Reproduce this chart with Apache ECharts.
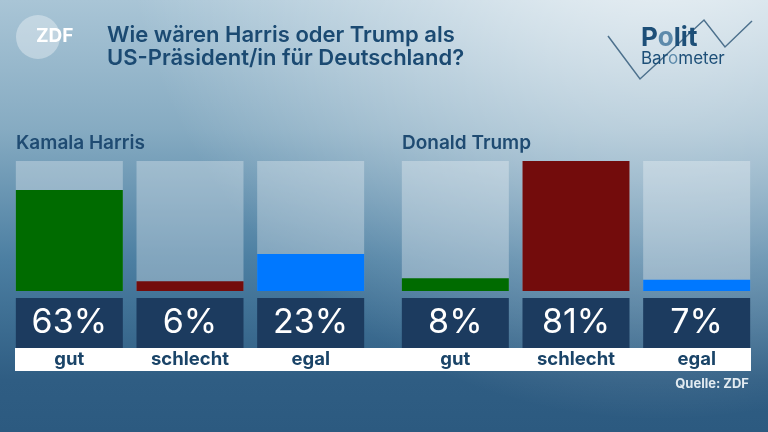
<!DOCTYPE html>
<html>
<head>
<meta charset="utf-8">
<script src="https://cdn.jsdelivr.net/npm/echarts@6/dist/echarts.min.js"></script>
<style>
  html, body { margin: 0; padding: 0; }
  #main { width: 768px; height: 432px; }
</style>
</head>
<body>
<div id="main"></div>
<script>
    var categories = ['gut', 'schlecht', 'egal'];
    var groupNames = ['Kamala Harris', 'Donald Trump'];
    var harris = [63, 6, 23];
    var trump = [8, 81, 7];
    var barColors = ['#006b00', '#730c0c', '#0078ff'];

    var FONT = 'Inter, "Noto Sans", sans-serif';
    var chart = echarts.init(document.getElementById('main'));
    var yMax = Math.max.apply(null, harris.concat(trump));

    function makeSeries(values, idx) {
        return {
            type: 'bar',
            xAxisIndex: idx,
            yAxisIndex: idx,
            barWidth: 107,
            showBackground: true,
            backgroundStyle: { color: 'rgba(255,255,255,0.3)' },
            data: values.map(function (v, i) {
                return { value: v, itemStyle: { color: barColors[i] } };
            }),
            label: {
                show: true,
                position: 'bottom',
                distance: 7,
                formatter: '{c}%',
                color: '#fff',
                fontFamily: FONT,
                fontSize: 34,
                width: 107,
                height: 50,
                lineHeight: 50,
                align: 'center',
                verticalAlign: 'top',
                backgroundColor: '#1c3b5f'
            },
            animation: false
        };
    }

    function xAx(idx) {
        return {
            type: 'category',
            gridIndex: idx,
            data: categories,
            axisLine: { show: false },
            axisTick: { show: false },
            axisLabel: {
                margin: 58,
                color: '#1a4468',
                fontFamily: FONT,
                fontWeight: 'bold',
                fontSize: 18.5,
                lineHeight: 21
            }
        };
    }

    function yAx(idx) {
        return {
            type: 'value',
            gridIndex: idx,
            min: 0,
            max: yMax,
            show: false
        };
    }

    var option = {
        backgroundColor: {
            type: 'linear', x: 0, y: 0, x2: 0, y2: 1,
            colorStops: [
                { offset: 0, color: '#a9c5d6' },
                { offset: 0.3, color: '#86abc2' },
                { offset: 0.6, color: '#4c7fa2' },
                { offset: 0.88, color: '#2f5d83' },
                { offset: 1, color: '#2c5a80' }
            ]
        },
        title: [
            {
                text: 'Wie wären Harris oder Trump als\nUS-Präsident/in für Deutschland?',
                left: 107, top: 24, padding: 0,
                textStyle: { color: '#1b4a72', fontFamily: FONT, fontWeight: 600, fontSize: 22, lineHeight: 23 }
            },
            {
                text: groupNames[0], left: 16, top: 134, padding: 0,
                textStyle: { color: '#1f4b72', fontFamily: FONT, fontWeight: 600, fontSize: 19 }
            },
            {
                text: groupNames[1], left: 402, top: 134, padding: 0,
                textStyle: { color: '#1f4b72', fontFamily: FONT, fontWeight: 600, fontSize: 19 }
            }
        ],
        grid: [
            { left: 9, top: 161, width: 362, height: 130 },
            { left: 395, top: 161, width: 362, height: 130 }
        ],
        xAxis: [xAx(0), xAx(1)],
        yAxis: [yAx(0), yAx(1)],
        graphic: [
            {
                type: 'circle', z: -5, silent: true,
                shape: { cx: 660, cy: -120, r: 540 },
                style: {
                    fill: {
                        type: 'radial', x: 0.5, y: 0.5, r: 0.5,
                        colorStops: [
                            { offset: 0, color: 'rgba(255,255,255,0.85)' },
                            { offset: 0.5, color: 'rgba(255,255,255,0.4)' },
                            { offset: 1, color: 'rgba(255,255,255,0)' }
                        ]
                    }
                }
            },
            {
                type: 'rect', silent: true, z: 0,
                shape: { x: 15, y: 348, width: 736, height: 23 },
                style: { fill: '#fff' }
            },
            {
                type: 'circle', silent: true,
                shape: { cx: 38, cy: 37, r: 22 },
                style: { fill: 'rgba(255,255,255,0.35)' }
            },
            {
                type: 'text', silent: true, left: 36, top: 27,
                style: { text: 'ZDF', fill: '#fff', font: 'bold 19px ' + FONT }
            },
            {
                type: 'polyline', silent: true,
                shape: { points: [[608, 36], [640, 79], [704, 20], [725, 47], [752, 21]] },
                style: { stroke: '#4d718d', lineWidth: 1.5, fill: null }
            },
            {
                type: 'text', silent: true, left: 641, top: 25,
                style: {
                    text: '{d|P}{l|o}{d|lit}',
                    rich: {
                        d: { fill: '#1d4f78', font: 'bold 26px ' + FONT },
                        l: { fill: '#5d8aab', font: 'bold 26px ' + FONT }
                    }
                }
            },
            {
                type: 'text', silent: true, left: 641, top: 50,
                style: {
                    text: '{d|Bar}{l|o}{d|meter}',
                    rich: {
                        d: { fill: '#1d4f78', font: '17px ' + FONT },
                        l: { fill: '#5d8aab', font: '17px ' + FONT }
                    }
                }
            },
            {
                type: 'text', silent: true, right: 19, top: 378,
                style: { text: 'Quelle: ZDF', fill: '#e2ebf1', font: 'bold 13px ' + FONT }
            }
        ],
        series: [makeSeries(harris, 0), makeSeries(trump, 1)]
    };

    chart.setOption(option);
</script>
</body>
</html>
